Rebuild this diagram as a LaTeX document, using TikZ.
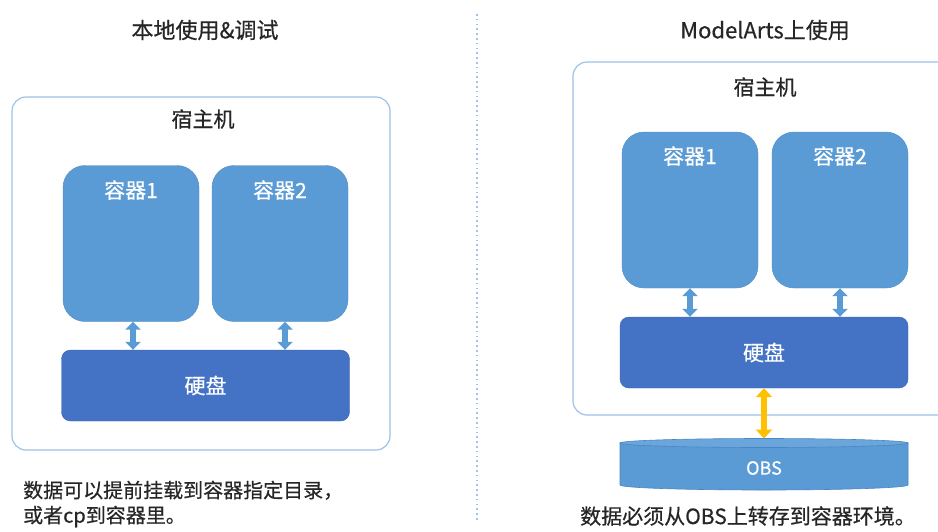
\documentclass[tikz,border=0pt]{standalone}
\usepackage{fontspec}
\setmainfont{Noto Sans CJK SC}[FakeBold=0.5]
\usetikzlibrary{arrows.meta}
\definecolor{contfill}{HTML}{5B9BD5}
\definecolor{diskfill}{HTML}{4472C4}
\definecolor{hostline}{HTML}{9DC3E6}
\definecolor{goldarrow}{HTML}{FFC000}
\definecolor{txtdark}{HTML}{262626}
\definecolor{cylline}{HTML}{4A86C0}
\definecolor{cyltop}{HTML}{6AA6DC}
\begin{document}
\begin{tikzpicture}[x=1pt,y=-1pt,
  hostbox/.style={draw=hostline, line width=1.2pt, rounded corners=14pt, fill=white, minimum width=#1},
  containerbox/.style={fill=contfill, draw=contfill!90!black, line width=0.4pt, rounded corners=22pt, minimum width=136pt, minimum height=156pt, inner sep=0pt},
  diskbox/.style={fill=diskfill, draw=diskfill!90!black, line width=0.4pt, rounded corners=9pt, minimum width=288pt, minimum height=71pt, inner sep=0pt, text=white, font=\fontsize{21}{24}\selectfont},
  whitelabel/.style={text=white, font=\fontsize{21}{24}\selectfont, inner sep=0pt},
  darklabel/.style={text=txtdark, font=\fontsize{21}{24}\selectfont, inner sep=0pt},
  biarrow/.style={line width=6pt, draw=contfill, {Triangle[width=15pt,length=8pt]}-{Triangle[width=15pt,length=8pt]}},
  goldbiarrow/.style={line width=6pt, draw=goldarrow, {Triangle[width=16pt,length=9pt]}-{Triangle[width=16pt,length=9pt]}}
]
\clip (0,0) rectangle (938,531);
\fill[white] (0,0) rectangle (938,531);

% divider
\draw[hostline, line width=1.6pt, dash pattern=on 1.6pt off 3.2pt] (477,14) -- (477,522);

% ---------------- left ----------------
\node[darklabel, font=\fontsize{22}{26}\selectfont] (titleL) at (205,30) {本地使用\&调试};
\node[hostbox=378pt, minimum height=353pt] (hostL) at (201,273.5) {};
\node[darklabel] (hostLlab) at (203,119) {宿主机};
\node[containerbox] (c1L) at (131,243.5) {};
\node[containerbox] (c2L) at (280,243.5) {};
\node[whitelabel] at (131,190) (c1Llab) {容器1};
\node[whitelabel] at (280,190) (c2Llab) {容器2};
\node[diskbox] (dL) at (205.5,385.5) {硬盘};
\draw[biarrow] ([xshift=2pt]c1L.south) -- ([xshift=2pt]c1L.south |- dL.north);
\draw[biarrow] ([xshift=5pt]c2L.south) -- ([xshift=5pt]c2L.south |- dL.north);
\node[darklabel, anchor=west, align=left, font=\fontsize{20}{25}\selectfont] (noteL) at (23,504)
  {数据可以提前挂载到容器指定目录，\\或者cp到容器里。};

% ---------------- right ----------------
\node[darklabel, font=\fontsize{22}{26}\selectfont] (titleR) at (765,30) {ModelArts上使用};
\node[hostbox=390pt, minimum height=353pt] (hostR) at (768,238.5) {};
\node[darklabel] (hostRlab) at (765,87) {宿主机};
\node[containerbox] (c1R) at (690,210) {};
\node[containerbox] (c2R) at (840,210) {};
\node[whitelabel] at (690,156) (c1Rlab) {容器1};
\node[whitelabel] at (840,156) (c2Rlab) {容器2};
\node[diskbox] (dR) at (764,352.5) {硬盘};
\draw[biarrow] (c1R.south) -- (c1R.south |- dR.north);
\draw[biarrow] (c2R.south) -- (c2R.south |- dR.north);

% OBS cylinder
\path[fill=contfill, draw=cylline, line width=0.6pt]
  (620,443) -- (620,485) arc[start angle=180, end angle=0, x radius=144, y radius=5] -- (908,443) -- cycle;
\draw[fill=cyltop, draw=cylline, line width=0.6pt] (764,443) ellipse [x radius=144, y radius=4.5];
\coordinate (obstop) at (764,438.5);
\node[whitelabel, font=\fontsize{18}{20}\selectfont] (obs) at (764,468) {OBS};
\draw[goldbiarrow] (dR.south) -- (obstop);

\node[darklabel, font=\fontsize{21}{25}\selectfont] (noteR) at (748,516) {数据必须从OBS上转存到容器环境。};
\end{tikzpicture}
\end{document}
